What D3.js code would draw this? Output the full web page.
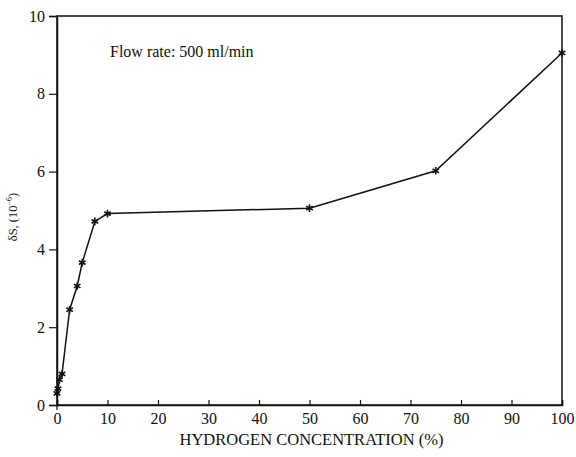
<!DOCTYPE html>
<html>
<head>
<meta charset="UTF-8">
<title>Hydrogen concentration</title>
<script src="https://cdnjs.cloudflare.com/ajax/libs/d3/7.8.5/d3.min.js"></script>
<style>
body { margin: 0; background: #fff; }
svg text { font-family: "Liberation Serif", "DejaVu Serif", serif; fill: #111; }
</style>
</head>
<body>
<div id="chart"></div>
<script>
/*global d3*/

// hydrogen concentration (%) and deltaS (10^-6)
var concentration = [0, 0.2, 0.5, 1, 2.5, 4, 5, 7.5, 10, 50, 75, 100];
var deltaS = [0.3, 0.42, 0.65, 0.8, 2.45, 3.06, 3.66, 4.72, 4.92, 5.06, 6.02, 9.05];
var xTicks = [0, 10, 20, 30, 40, 50, 60, 70, 80, 90, 100];
var yTicks = [0, 2, 4, 6, 8, 10];

var width = 576, height = 457;
var margin = {top: 16, right: 14, bottom: 52, left: 57};

var svg = d3.select("#chart").append("svg")
    .attr("width", width)
    .attr("height", height);

var x = d3.scaleLinear()
    .domain([0, 100])
    .range([margin.left, width - margin.right]);

var y = d3.scaleLinear()
    .domain([0, 10])
    .range([height - margin.bottom, margin.top]);

// frame
svg.append("rect")
    .attr("x", x(0))
    .attr("y", y(10))
    .attr("width", x(100) - x(0))
    .attr("height", y(0) - y(10))
    .attr("fill", "none")
    .attr("stroke", "#111")
    .attr("stroke-width", 1.5);

// x axis, ticks point inward
var xAxis = svg.append("g")
    .attr("transform", "translate(0," + y(0) + ")")
    .call(d3.axisBottom(x).tickValues(xTicks).tickSize(-5).tickPadding(8));

// y axis, ticks point outward
var yAxis = svg.append("g")
    .attr("transform", "translate(" + x(0) + ",0)")
    .call(d3.axisLeft(y).tickValues(yTicks).tickSize(8).tickPadding(4));

[xAxis, yAxis].forEach(function (g) {
    g.select(".domain").attr("stroke", "#111").attr("stroke-width", 1.5);
    g.selectAll(".tick line").attr("stroke", "#111").attr("stroke-width", 1.2);
    g.selectAll(".tick text")
        .attr("fill", "#111")
        .style("font-size", "16px")
        .style("font-family", "Liberation Serif, serif");
});

// the 0 tick on x also pokes below the axis
svg.append("line")
    .attr("x1", x(0)).attr("x2", x(0))
    .attr("y1", y(0)).attr("y2", y(0) + 5)
    .attr("stroke", "#111").attr("stroke-width", 1.2);

var data = concentration.map(function (c, i) { return [c, deltaS[i]]; });

var line = d3.line()
    .x(function (d) { return x(d[0]); })
    .y(function (d) { return y(d[1]); });

svg.append("path")
    .datum(data)
    .attr("d", line)
    .attr("fill", "none")
    .attr("stroke", "#111")
    .attr("stroke-width", 1.5);

svg.selectAll(".pt")
    .data(data)
    .enter()
    .append("path")
    .attr("class", "pt")
    .attr("transform", function (d) { return "translate(" + x(d[0]) + "," + y(d[1]) + ")"; })
    .attr("d", d3.symbol().type(d3.symbolAsterisk).size(40))
    .attr("fill", "none")
    .attr("stroke", "#111")
    .attr("stroke-width", 1.6);

// labels
svg.append("text")
    .attr("x", (x(0) + x(100)) / 2 + 2)
    .attr("y", 445)
    .attr("text-anchor", "middle")
    .style("font-size", "16.5px")
    .text("HYDROGEN CONCENTRATION (%)");

var yl = svg.append("text")
    .attr("transform", "translate(17,217) rotate(-90)")
    .attr("text-anchor", "middle")
    .style("font-size", "12.5px");
yl.append("tspan").text("δS, (10");
yl.append("tspan").attr("dy", -5).style("font-size", "8px").text("−6");
yl.append("tspan").attr("dy", 5).text(")");

svg.append("text")
    .attr("x", 110)
    .attr("y", 57)
    .style("font-size", "16px")
    .text("Flow rate: 500 ml/min");
</script>
</body>
</html>
